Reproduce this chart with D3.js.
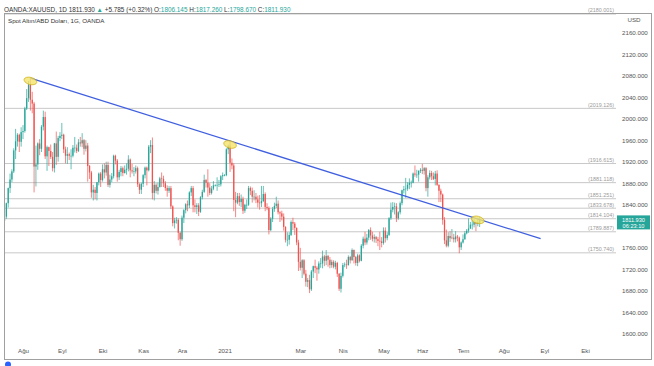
<!doctype html>
<html lang="tr">
<head>
<meta charset="UTF-8">
<title>XAUUSD 1D</title>
<script src="https://cdn.jsdelivr.net/npm/d3@7"></script>
<style>
  body { margin: 0; background: #fff; }
  svg { display: block; font-family: "Liberation Sans", Arial, sans-serif; }
</style>
</head>
<body>
<div id="chart"></div>
<script>
// daily bars, one row per weekday starting at startDate: [open, high, low, close]
var startDate = "2020-07-17";

var jul20 = [[1796,1815,1794,1810],[1810,1821,1802,1818],[1818,1844,1814,1843],[1843,1872,1835,1871],[1871,1898,1862,1887],
  [1887,1906,1882,1902],[1902,1945,1899,1941],[1941,1981,1925,1958],[1958,1973,1948,1970],[1970,1972,1938,1957],[1957,1984,1948,1975]];
var aug20 = [[1975,1988,1962,1977],[1977,2022,1974,2019],[2019,2055,2016,2038],[2038,2070,2031,2063],[2063,2075,2015,2035],
  [2035,2050,2010,2028],[2028,2031,1863,1911],[1911,1950,1874,1915],[1915,1956,1905,1954],[1954,1962,1932,1944],
  [1944,1988,1938,1985],[1985,2015,1978,2003],[2003,2013,1925,1930],[1930,1950,1903,1947],[1947,1948,1912,1940],
  [1940,1952,1925,1929],[1929,1938,1902,1908],[1908,1955,1900,1954],[1954,1976,1914,1929],[1929,1968,1920,1964],[1964,1975,1958,1968]];
var sep20 = [[1968,1992,1962,1970],[1970,1972,1936,1943],[1943,1948,1917,1931],[1931,1947,1916,1934],[1934,1937,1923,1931],
  [1931,1943,1906,1931],[1931,1951,1928,1946],[1946,1966,1937,1946],[1946,1952,1936,1940],[1940,1962,1938,1956],
  [1956,1966,1948,1954],[1954,1973,1947,1960],[1960,1962,1933,1944],[1944,1960,1939,1950],[1950,1955,1883,1912],
  [1912,1914,1888,1900],[1900,1903,1853,1863],[1863,1877,1848,1868],[1868,1873,1850,1862],[1862,1882,1848,1882],
  [1882,1900,1876,1898],[1898,1901,1873,1886]];
var oct20 = [[1886,1915,1883,1906],[1906,1917,1889,1900],[1900,1920,1894,1914],[1914,1920,1873,1877],[1877,1896,1872,1887],
  [1887,1899,1882,1893],[1893,1933,1889,1931],[1931,1933,1915,1922],[1922,1925,1883,1891],[1891,1905,1886,1901],
  [1901,1912,1893,1908],[1908,1911,1893,1899],[1899,1913,1898,1905],[1905,1917,1896,1907],[1907,1932,1902,1924],
  [1924,1926,1891,1904],[1904,1916,1898,1902],[1902,1910,1893,1902],[1902,1913,1898,1908],[1908,1911,1873,1878],
  [1878,1880,1860,1868],[1868,1881,1860,1879]];
var nov20 = [[1879,1897,1873,1895],[1895,1911,1889,1909],[1909,1911,1876,1904],[1904,1951,1902,1948],[1948,1960,1936,1951],
  [1951,1965,1850,1862],[1862,1884,1848,1877],[1877,1880,1861,1866],[1866,1881,1859,1873],[1873,1892,1872,1889],
  [1889,1900,1873,1888],[1888,1894,1873,1880],[1880,1884,1866,1871],[1871,1876,1855,1866],[1866,1875,1862,1871],
  [1871,1875,1832,1837],[1837,1839,1800,1806],[1806,1816,1796,1811],[1811,1817,1805,1812],[1812,1815,1774,1788],[1788,1790,1764,1776]];
var dec20 = [[1776,1820,1773,1816],[1816,1832,1806,1830],[1830,1843,1824,1841],[1841,1848,1828,1839],[1839,1865,1834,1863],
  [1863,1875,1856,1871],[1871,1875,1826,1839],[1839,1850,1826,1836],[1836,1843,1823,1839],[1839,1843,1819,1827],
  [1827,1856,1825,1854],[1854,1868,1850,1864],[1864,1896,1862,1886],[1886,1888,1872,1881],[1881,1906,1855,1872],
  [1872,1880,1858,1862],[1862,1875,1859,1870],[1870,1884,1867,1876],[1876,1878,1874,1876],[1876,1891,1866,1877],
  [1877,1886,1873,1878],[1878,1895,1874,1893],[1893,1900,1886,1895]];
var jan21 = [[1895,1897,1893,1895],[1895,1945,1893,1943],[1943,1952,1934,1950],[1950,1959,1901,1918],[1918,1926,1906,1913],
  [1913,1917,1828,1849],[1849,1864,1817,1844],[1844,1862,1841,1856],[1856,1862,1838,1845],[1845,1859,1836,1851],
  [1851,1855,1823,1829],[1829,1842,1825,1840],[1840,1850,1832,1840],[1840,1875,1838,1871],[1871,1874,1858,1866],
  [1866,1872,1844,1855],[1855,1867,1848,1855],[1855,1862,1843,1850],[1850,1857,1835,1844],[1844,1858,1831,1843],[1843,1875,1836,1847]];
var feb21 = [[1847,1875,1845,1860],[1860,1863,1828,1836],[1836,1843,1830,1834],[1834,1837,1785,1793],[1793,1817,1791,1814],
  [1814,1836,1808,1832],[1832,1844,1827,1838],[1838,1855,1834,1842],[1842,1848,1822,1826],[1826,1828,1808,1824],
  [1824,1829,1811,1818],[1818,1824,1792,1799],[1799,1800,1770,1775],[1775,1789,1763,1775],[1775,1789,1766,1784],
  [1784,1811,1782,1808],[1808,1816,1793,1805],[1805,1808,1784,1797],[1797,1798,1765,1770],[1770,1775,1717,1734]];
var mar21 = [[1734,1760,1718,1723],[1723,1739,1704,1737],[1737,1739,1709,1712],[1712,1719,1688,1697],[1697,1704,1687,1700],
  [1700,1710,1676,1683],[1683,1719,1680,1716],[1716,1727,1704,1726],[1726,1738,1713,1723],[1723,1726,1699,1720],
  [1720,1735,1712,1731],[1731,1741,1723,1731],[1731,1755,1722,1744],[1744,1747,1726,1736],[1736,1756,1728,1745],
  [1745,1747,1725,1738],[1738,1743,1722,1728],[1728,1738,1723,1734],[1734,1737,1722,1725],[1725,1736,1720,1732],
  [1732,1734,1706,1712],[1712,1713,1680,1684],[1684,1714,1677,1708]];
var apr21 = [[1708,1732,1705,1728],[1728,1733,1724,1729],[1729,1738,1721,1728],[1728,1746,1727,1743],[1743,1745,1731,1737],
  [1737,1759,1736,1756],[1756,1757,1731,1743],[1743,1745,1727,1732],[1732,1749,1726,1746],[1746,1748,1733,1736],
  [1736,1767,1735,1764],[1764,1781,1759,1777],[1777,1790,1765,1770],[1770,1786,1766,1779],[1779,1795,1774,1793],
  [1793,1798,1775,1783],[1783,1790,1772,1777],[1777,1785,1770,1780],[1780,1782,1769,1776],[1776,1780,1763,1773],
  [1773,1790,1756,1772],[1772,1780,1761,1769]];
var may21 = [[1769,1798,1766,1792],[1792,1798,1770,1778],[1778,1789,1774,1784],[1784,1817,1782,1815],[1815,1844,1812,1831],
  [1831,1845,1826,1836],[1836,1844,1822,1837],[1837,1843,1808,1815],[1815,1828,1812,1826],[1826,1846,1822,1843],
  [1843,1868,1839,1867],[1867,1875,1861,1869],[1869,1890,1853,1870],[1870,1882,1866,1877],[1877,1889,1869,1881],
  [1881,1885,1872,1881],[1881,1900,1880,1898],[1898,1913,1892,1896],[1896,1905,1890,1896],[1896,1904,1883,1903],[1903,1908,1899,1905]];
var jun21 = [[1905,1916,1897,1903],[1903,1910,1896,1908],[1908,1910,1865,1871],[1871,1895,1855,1891],[1891,1904,1887,1899],
  [1899,1903,1886,1893],[1893,1900,1886,1888],[1888,1903,1876,1898],[1898,1904,1875,1877],[1877,1878,1845,1866],
  [1866,1870,1845,1859],[1859,1861,1803,1812],[1812,1817,1767,1774],[1774,1794,1761,1764],[1764,1789,1761,1782],
  [1782,1791,1771,1778],[1778,1795,1776,1779],[1779,1786,1770,1776],[1776,1791,1770,1781],[1781,1784,1772,1779],
  [1779,1781,1750,1761],[1761,1772,1756,1770]];
var jul21 = [[1770,1785,1768,1776],[1776,1791,1775,1787],[1787,1795,1785,1792],[1792,1815,1788,1796],[1796,1808,1795,1803],
  [1803,1818,1794,1803],[1803,1813,1798,1808],[1808,1809,1791,1805],[1805,1816,1800,1808],[1806.145,1817.26,1798.67,1811.93]];

var bars = [].concat(jul20, aug20, sep20, oct20, nov20, dec20, jan21, feb21, mar21, apr21, may21, jun21, jul21);

var monthLabels = ["Ağu","Eyl","Eki","Kas","Ara","2021","Mar","Nis","May","Haz","Tem","Ağu","Eyl","Eki"];
var monthDates = ["2020-08-03","2020-09-01","2020-10-01","2020-11-02","2020-12-01","2021-01-01","2021-03-01",
  "2021-04-01","2021-05-03","2021-06-01","2021-07-01","2021-08-02","2021-09-01","2021-10-01"];

var priceTicks = [1600,1640,1680,1720,1760,1800,1840,1880,1920,1960,2000,2040,2080,2120,2160];
var levels = [2180.001, 2019.126, 1916.615, 1881.118, 1851.251, 1833.678, 1814.104, 1789.887, 1750.740];

var trendDates = ["2020-08-07", "2021-08-30"];
var trendPrices = [2075.1, 1777];

var markDates = ["2020-08-07", "2021-01-06", "2021-07-13"];
var markPrices = [2070, 1952, 1812];

var lastPrice = 1811.930, countdown = "06:23:10";

var W = 654, H = 366;
var upCol = "#26a69a", downCol = "#ef5350";
var plotTop = 14;

function barIndex(s){
  // count weekdays between start and s
  var d = new Date(s + "T00:00:00Z"), t = new Date(startDate + "T00:00:00Z"), n = 0;
  while(t < d){
    var w = t.getUTCDay();
    if(w !== 0 && w !== 6) n++;
    t.setUTCDate(t.getUTCDate() + 1);
  }
  return n;
}

var x = d3.scaleLinear()
  .domain([barIndex("2020-08-03"), barIndex("2021-07-01")])
  .range([23, 463]);
var y = d3.scaleLinear().domain([1600, 2160]).range([334, 32.5]);

// level lines above the visible price range sit on the top edge
function levelY(d){ return y(d) < 24 ? plotTop : y(d); }

var svg = d3.select("#chart").append("svg").attr("width", W).attr("height", H);

// header line
var head = svg.append("text").attr("x", 4).attr("y", 11.5).attr("font-size", 6.4).attr("fill", "#333");
head.append("tspan").text("OANDA:XAUUSD, 1D 1811.930 ");
head.append("tspan").attr("fill", upCol).text("▲");
head.append("tspan").text(" +5.785 (+0.32%) O:");
head.append("tspan").attr("fill", upCol).text("1806.145");
head.append("tspan").text(" H:");
head.append("tspan").attr("fill", upCol).text("1817.260");
head.append("tspan").text(" L:");
head.append("tspan").attr("fill", upCol).text("1798.670");
head.append("tspan").text(" C:");
head.append("tspan").attr("fill", upCol).text("1811.930");

// frame
svg.append("rect").attr("x", 4.5).attr("y", 13.5).attr("width", 647).attr("height", 346)
  .attr("fill", "none").attr("stroke", "#a0a0a0");

svg.append("text").attr("x", 8).attr("y", 22.5).attr("font-size", 6.2).attr("fill", "#333")
  .text("Spot Altın/ABD Doları, 1G, OANDA");

svg.append("defs").append("clipPath").attr("id", "plot")
  .append("rect").attr("x", 5).attr("y", plotTop).attr("width", 611).attr("height", 330);

var plot = svg.append("g").attr("clip-path", "url(#plot)");

// horizontal levels
plot.selectAll("line.level").data(levels).enter().append("line")
  .attr("class", "level")
  .attr("x1", 5).attr("x2", 616)
  .attr("y1", levelY).attr("y2", levelY)
  .attr("stroke", "#c8c8c8").attr("stroke-width", 1);

svg.selectAll("text.level").data(levels).enter().append("text")
  .attr("class", "level")
  .attr("x", 614).attr("y", function(d){ return levelY(d) - 1.6; })
  .attr("text-anchor", "end").attr("font-size", 5.4).attr("fill", "#9a9a9a")
  .text(function(d){ return "(" + d3.format(".3f")(d) + ")"; });

// candles
var candle = plot.selectAll("g.bar").data(bars).enter().append("g").attr("class", "bar");
candle.append("line")
  .attr("x1", function(d,i){ return x(i); }).attr("x2", function(d,i){ return x(i); })
  .attr("y1", function(d){ return y(d[1]); }).attr("y2", function(d){ return y(d[2]); })
  .attr("stroke", function(d){ return d[3] >= d[0] ? upCol : downCol; })
  .attr("stroke-width", 0.7);
candle.append("rect")
  .attr("x", function(d,i){ return x(i) - 0.65; })
  .attr("width", 1.3)
  .attr("y", function(d){ return y(Math.max(d[0], d[3])); })
  .attr("height", function(d){ return Math.max(0.6, Math.abs(y(d[0]) - y(d[3]))); })
  .attr("fill", function(d){ return d[3] >= d[0] ? upCol : downCol; });

// trend line
plot.append("line")
  .attr("x1", x(barIndex(trendDates[0]))).attr("y1", y(trendPrices[0]))
  .attr("x2", x(barIndex(trendDates[1]))).attr("y2", y(trendPrices[1]))
  .attr("stroke", "#3f5fe0").attr("stroke-width", 1.3);

// highlight ellipses
plot.selectAll("ellipse").data(markDates).enter().append("ellipse")
  .attr("transform", function(d,i){
    return "translate(" + x(barIndex(d)) + "," + y(markPrices[i]) + ") rotate(15)";
  })
  .attr("rx", 6.5).attr("ry", 3.6)
  .attr("fill", "#f3e46c").attr("fill-opacity", 0.8)
  .attr("stroke", "#c9a800").attr("stroke-width", 0.6);

// price axis, the tick hidden under the last price tag is left out
var ly = y(lastPrice);
var shownTicks = priceTicks.filter(function(t){ return Math.abs(y(t) - (ly + 2.5)) > 9; });
var yAxis = svg.append("g").attr("transform", "translate(620,0)")
  .call(d3.axisRight(y).tickValues(shownTicks).tickFormat(d3.format(".3f")).tickSize(0).tickPadding(2));
yAxis.select(".domain").remove();
yAxis.selectAll("text").attr("font-size", 6.2).attr("fill", "#555").attr("font-family", null);

svg.append("text").attr("x", 634).attr("y", 22).attr("text-anchor", "middle")
  .attr("font-size", 6.2).attr("fill", "#555").text("USD");

// last price tag
svg.append("rect").attr("x", 617).attr("y", ly - 4.5).attr("width", 33).attr("height", 14).attr("fill", upCol);
svg.append("text").attr("x", 633.5).attr("y", ly + 1.8).attr("text-anchor", "middle")
  .attr("font-size", 5.6).attr("fill", "#fff").text(d3.format(".3f")(lastPrice));
svg.append("text").attr("x", 633.5).attr("y", ly + 8.3).attr("text-anchor", "middle")
  .attr("font-size", 5.6).attr("fill", "#fff").text(countdown);

// time axis
var xAxis = svg.append("g").attr("transform", "translate(0,346)")
  .call(d3.axisBottom(x).tickValues(monthDates.map(barIndex))
    .tickFormat(function(d,i){ return monthLabels[i]; }).tickSize(0).tickPadding(3));
xAxis.select(".domain").remove();
xAxis.selectAll("text").attr("font-size", 6.2).attr("fill", "#555").attr("font-family", null);

// bottom icon
svg.append("circle").attr("cx", 8).attr("cy", 364.5).attr("r", 3).attr("fill", "#2962ff");
</script>
</body>
</html>
